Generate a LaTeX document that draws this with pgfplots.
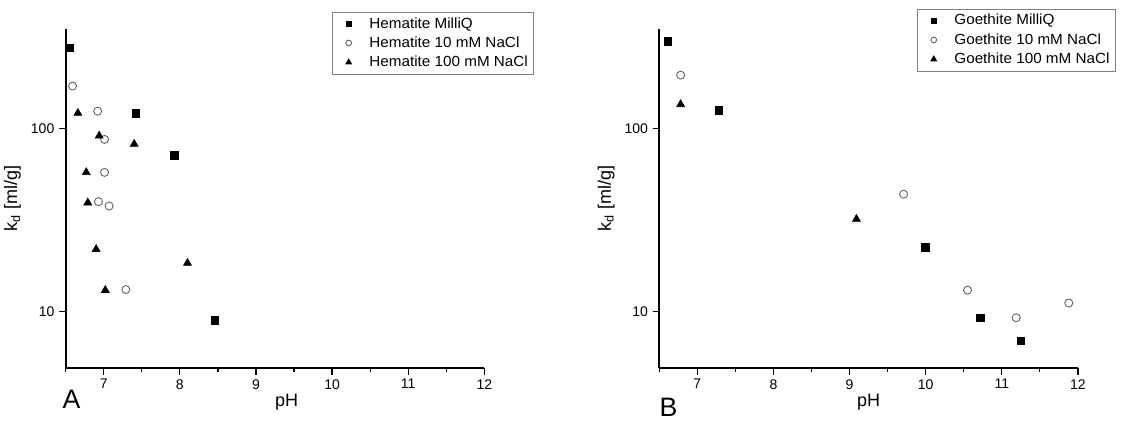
\documentclass[border=0pt]{standalone}
\usepackage{fontspec}
\setmainfont{Liberation Sans}
\newfontfamily\legfont[FakeStretch=1.04]{Liberation Sans}
\usepackage{pgfplots}
\pgfplotsset{compat=1.18}

% Hematite
\pgfplotstableread{
ph kd
6.55 275
7.42 121
7.93 71
8.46 9.0
}\hemMQ
\pgfplotstableread{
ph kd
6.59 170
6.92 124
7.01 87
7.01 57.5
6.93 39.8
7.07 37.7
7.29 13.2
}\hemTen
\pgfplotstableread{
ph kd
6.66 121
6.94 91
7.40 82
6.77 57.5
6.79 39.3
6.90 21.9
8.10 18.4
7.02 13.1
}\hemHun
% Goethite
\pgfplotstableread{
ph kd
6.61 299
7.28 126
9.99 22.4
10.72 9.27
11.25 6.95
}\goeMQ
\pgfplotstableread{
ph kd
6.78 195
9.71 43.7
10.55 13.1
11.19 9.27
11.88 11.15
}\goeTen
\pgfplotstableread{
ph kd
6.78 135
9.09 32.0
}\goeHun

\pgfplotsset{
  kdplot/.style={
    scale only axis, width=313.95pt, height=254.25pt,
    xmin=6.5, xmax=12, ymin=4.93, ymax=348,
    axis x line*=bottom, axis y line*=left,
    axis line style={line width=1.3pt,-},
    xtick={7,...,12}, minor xtick={6.5,7.5,...,11.5},
    ytick={10,100}, yticklabels={10,100}, yminorticks=false,
    tick align=outside, major tick length=5pt, minor tick length=3pt,
    tick style={line width=0.9pt, black},
    tick label style={font=\fontsize{10.5}{12}\selectfont},
    /pgf/number format/assume math mode=true,
    xlabel=pH, ylabel={k\textsubscript{d} [ml/g]},
    label style={font=\fontsize{13.5}{15}\selectfont},
    xlabel style={anchor=north, yshift=-16pt},
    ylabel style={at={(axis description cs:-0.127,0.5)}, anchor=center},
    clip=false,
    legend cell align=left,
    legend image code/.code={
      \path[draw=none, fill=none] (0pt,0pt) (24pt,0pt);
      \draw[##1, every mark/.append style={scale=0.72}] plot coordinates {(10pt,0pt)};
    },
    legend style={draw=gray, line width=0.5pt, anchor=north west,
      font=\legfont\fontsize{11}{12}\selectfont, inner sep=2.5pt,
      row sep=2pt, nodes={inner sep=1.5pt}},
  },
  sqm/.style={only marks, mark=square*, mark size=2.9pt, mark options={black}},
  cim/.style={only marks, mark=o, mark size=3pt, mark options={draw=black!60, fill=white, line width=0.7pt}},
  trm/.style={only marks, mark=triangle*, mark size=3.5pt, mark options={black}},
}

\begin{document}
\begin{tikzpicture}
\begin{axis}[ymode=log, kdplot, at={(49.275pt,-276pt)}, anchor=south west,
  xlabel style={at={(axis description cs:0.528,0)}},
  legend style={at={(0.6355,1.051)}}]
  \addplot[sqm] table {\hemMQ};
  \addlegendentry{Hematite MilliQ}
  \addplot[cim] table {\hemTen};
  \addlegendentry{Hematite 10 mM NaCl}
  \addplot[trm] table {\hemHun};
  \addlegendentry{Hematite 100 mM NaCl}
  \node[font=\fontsize{20}{22}\selectfont] at (axis description cs:0.014,-0.0914) {A};
\end{axis}
\begin{axis}[ymode=log, kdplot, at={(494.475pt,-276pt)}, anchor=south west,
  xlabel style={at={(axis description cs:0.5,0)}},
  legend style={at={(0.615,1.06)}}]
  \addplot[sqm] table {\goeMQ};
  \addlegendentry{Goethite MilliQ}
  \addplot[cim] table {\goeTen};
  \addlegendentry{Goethite 10 mM NaCl}
  \addplot[trm] table {\goeHun};
  \addlegendentry{Goethite 100 mM NaCl}
  \node[font=\fontsize{20}{22}\selectfont] at (axis description cs:0.022,-0.1165) {B};
\end{axis}
\pgfresetboundingbox
\path[use as bounding box] (0,0) rectangle (845.25pt,-315.75pt);
\end{tikzpicture}
\end{document}
